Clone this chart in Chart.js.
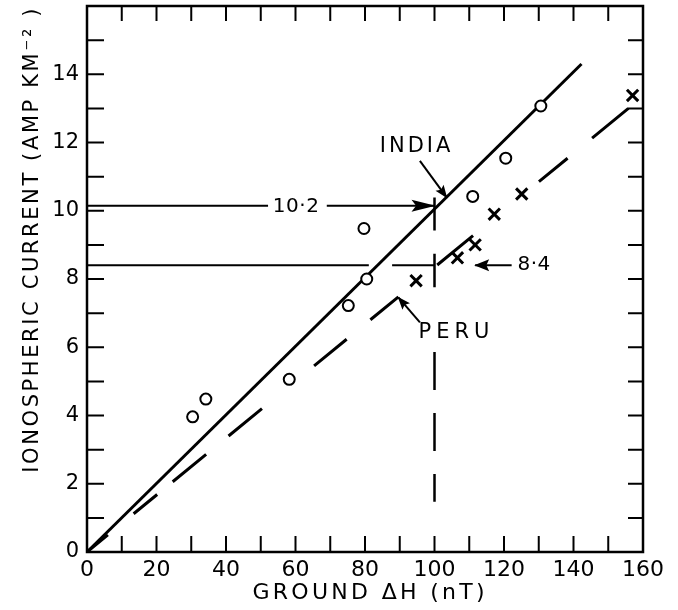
<!DOCTYPE html>
<html>
<head>
<meta charset="utf-8">
<script src="https://cdn.jsdelivr.net/npm/chart.js@4.4.1/dist/chart.umd.min.js"></script>
<style>
html,body{margin:0;padding:0;background:#fff;}
#wrap{width:678px;height:610px;position:relative;}
</style>
</head>
<body>
<div id="wrap"><canvas id="c"></canvas></div>
<script>
// ---- data ----
// India observations (open circles)
const indiaX = [30.4, 34.2, 58.2, 75.2, 80.5, 79.7, 111.0, 120.5, 130.6];
const indiaY = [3.96, 4.48, 5.06, 7.22, 8.0, 9.48, 10.42, 11.54, 13.07];
// Peru observations (crosses)
const peruX = [94.7, 106.6, 111.7, 117.2, 125.1, 157.0];
const peruY = [7.95, 8.62, 9.0, 9.9, 10.49, 13.38];
// fitted lines (end points)
const indiaFitX = [0, 142.3];
const indiaFitY = [0, 14.3];
const peruFitX = [0, 155.8];
const peruFitY = [0, 13.0];
// reference read-offs at ground dH = 100 nT
const refDH = 100;
const refIndia = 10.15;
const refPeru = 8.4;
// axis tick labels
const xTickLabels = [0, 20, 40, 60, 80, 100, 120, 140, 160];
const yTickLabels = [0, 2, 4, 6, 8, 10, 12, 14];

const pts = (xs, ys) => xs.map((x, i) => ({x: x, y: ys[i]}));
const BLACK = '#000';
const FONT = '"DejaVu Sans", sans-serif';

// annotation texts (anchored in data units)
const annotations = [
  {text: 'INDIA', x: 94.4, y: 11.87, size: 21, ls: 3},
  {text: 'PERU', x: 105.6, y: 6.43, size: 21, ls: 5},
  {text: '10·2', x: 60.1, y: 10.13, size: 20, ls: 0.5},
  {text: '8·4', x: 128.6, y: 8.42, size: 20, ls: 0.5}
];

const lineDs = (data, extra) => Object.assign({
  data: data, showLine: true, pointRadius: 0, borderColor: BLACK,
  borderWidth: 2, fill: false, order: 2, borderCapStyle: 'butt'
}, extra || {});

const datasets = [
  {label: 'India', data: pts(indiaX, indiaY), pointStyle: 'circle', pointRadius: 5.5,
   pointBorderWidth: 2, borderColor: BLACK, backgroundColor: '#fff', showLine: false, order: 0},
  {label: 'Peru', data: pts(peruX, peruY), pointStyle: 'crossRot', pointRadius: 8,
   pointBorderWidth: 3, borderColor: BLACK, backgroundColor: BLACK, showLine: false, order: 0},
  lineDs(pts(indiaFitX, indiaFitY), {label: 'India fit', borderWidth: 3}),
  lineDs(pts(peruFitX, peruFitY), {label: 'Peru fit', borderWidth: 3,
    borderDash: [27, 33.3, 30.4, 20.1, 43.2, 29, 43.2, 67.4, 42.1, 30.7, 36.2, 50.2, 46.3, 85.2, 37, 31.7, 47.5, 100]}),
  // 10.2 read-off with arrow
  lineDs([{x: 0, y: refIndia}, {x: 52.1, y: refIndia}, {x: 60, y: null}, {x: 69, y: refIndia}, {x: refDH, y: refIndia}],
    {label: 'ref India', arrow: {len: 23, half: 6}}),
  // 8.4 read-off line
  lineDs([{x: 0, y: refPeru}, {x: 81.1, y: refPeru}, {x: 84, y: null}, {x: 87.8, y: refPeru}, {x: refDH, y: refPeru}],
    {label: 'ref Peru'}),
  // small vertical marks at dH = 100
  lineDs([{x: refDH, y: 10.39}, {x: refDH, y: 9.42}, {x: refDH, y: null}, {x: refDH, y: 8.74}, {x: refDH, y: 7.76}],
    {label: 'marks', borderWidth: 2.5}),
  // vertical dashed line at dH = 100
  lineDs([{x: refDH, y: 5.86}, {x: refDH, y: 1.47}], {label: 'vdash', borderWidth: 2.5, borderDash: [38, 23]}),
  // arrow pointing to 8.4
  lineDs([{x: 122.2, y: refPeru}, {x: 111.7, y: refPeru}], {label: 'arrow 8.4', arrow: {len: 14, half: 6}}),
  // INDIA arrow
  lineDs([{x: 95.8, y: 11.46}, {x: 103.5, y: 10.39}], {label: 'arrow India', arrow: {len: 12, half: 5}}),
  // PERU arrow
  lineDs([{x: 95.8, y: 6.73}, {x: 89.6, y: 7.46}], {label: 'arrow Peru', arrow: {len: 12, half: 5}})
];

const decor = {
  id: 'decor',
  beforeDraw(chart) {
    for (const s of Object.values(chart.scales)) {
      if (!s.__lsPatched) {
        const orig = s.drawTitle;
        const ls = s.axis === 'x' ? '3.3px' : '2.6px';
        s.drawTitle = function () {
          const c = this.ctx;
          c.letterSpacing = ls;
          orig.apply(this, arguments);
          c.letterSpacing = '0px';
        };
        s.__lsPatched = true;
      }
    }
  },
  afterDatasetsDraw(chart) {
    const ctx = chart.ctx;
    const a = chart.chartArea;
    const xs = chart.scales.x, ys = chart.scales.y;
    ctx.save();
    // arrowheads
    chart.data.datasets.forEach((ds, i) => {
      if (!ds.arrow) return;
      const p = chart.getDatasetMeta(i).data;
      const p2 = p[p.length - 1], p1 = p[p.length - 2];
      const ang = Math.atan2(p2.y - p1.y, p2.x - p1.x);
      ctx.save();
      ctx.translate(p2.x, p2.y);
      ctx.rotate(ang);
      ctx.beginPath();
      ctx.moveTo(1, 0);
      ctx.lineTo(-ds.arrow.len, -ds.arrow.half);
      ctx.lineTo(-ds.arrow.len * 0.8, 0);
      ctx.lineTo(-ds.arrow.len, ds.arrow.half);
      ctx.closePath();
      ctx.fillStyle = BLACK;
      ctx.fill();
      ctx.restore();
    });
    // frame
    ctx.strokeStyle = BLACK;
    ctx.lineWidth = 2.5;
    ctx.strokeRect(a.left, a.top, a.right - a.left, a.bottom - a.top);
    // inward ticks on all four sides
    ctx.lineWidth = 2;
    ctx.beginPath();
    xs.ticks.forEach(t => {
      if (t.value <= xs.min || t.value >= xs.max) return;
      const px = xs.getPixelForValue(t.value);
      ctx.moveTo(px, a.bottom); ctx.lineTo(px, a.bottom - 16);
      ctx.moveTo(px, a.top); ctx.lineTo(px, a.top + 15);
    });
    ys.ticks.forEach(t => {
      if (t.value <= ys.min || t.value >= ys.max) return;
      const py = ys.getPixelForValue(t.value);
      ctx.moveTo(a.left, py); ctx.lineTo(a.left + 17, py);
      ctx.moveTo(a.right, py); ctx.lineTo(a.right - 15, py);
    });
    ctx.stroke();
    // annotation texts
    ctx.fillStyle = BLACK;
    ctx.textBaseline = 'middle';
    ctx.textAlign = 'left';
    annotations.forEach(an => {
      ctx.font = an.size + 'px ' + FONT;
      ctx.letterSpacing = an.ls + 'px';
      const w = ctx.measureText(an.text).width - an.ls;
      ctx.fillText(an.text, xs.getPixelForValue(an.x) - w / 2, ys.getPixelForValue(an.y));
    });
    ctx.letterSpacing = '0px';
    ctx.restore();
  }
};

Chart.defaults.font.family = FONT;
Chart.defaults.color = BLACK;

new Chart(document.getElementById('c'), {
  type: 'scatter',
  data: {datasets: datasets},
  options: {
    responsive: true,
    maintainAspectRatio: false,
    animation: false,
    events: [],
    layout: {autoPadding: false, padding: {top: 6, right: 35, bottom: 0, left: 0}},
    plugins: {legend: {display: false}, tooltip: {enabled: false}},
    scales: {
      x: {
        type: 'linear', min: 0, max: 160,
        grid: {display: false, drawTicks: false},
        border: {display: false},
        ticks: {
          stepSize: 10, autoSkip: false, maxRotation: 0, padding: 5,
          font: {size: 22},
          callback: v => xTickLabels.includes(v) ? String(v) : ''
        },
        title: {display: true, text: ' GROUND ΔH (nT)', font: {size: 22}, padding: {top: 0, bottom: 4}},
        afterFit: s => { s.height = 58; s.paddingLeft = 0; s.paddingRight = 0; s.paddingTop = 0; s.paddingBottom = 0; }
      },
      y: {
        type: 'linear', min: 0, max: 16,
        grid: {display: false, drawTicks: false},
        border: {display: false},
        ticks: {
          stepSize: 1, autoSkip: false, padding: 8,
          font: {size: 21},
          callback: v => yTickLabels.includes(v) ? String(v) : ''
        },
        title: {display: true, text: 'IONOSPHERIC CURRENT (AMP KM⁻² )', align: 'end',
                font: {size: 21}, padding: {top: 20, bottom: 0}},
        afterFit: s => { s.width = 87; s.paddingLeft = 0; s.paddingRight = 0; s.paddingTop = 0; s.paddingBottom = 0; }
      }
    }
  },
  plugins: [decor]
});
</script>
</body>
</html>
